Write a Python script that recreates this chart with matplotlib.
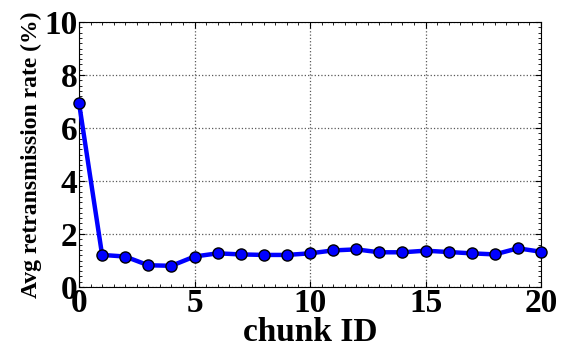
import matplotlib
matplotlib.use("Agg")
import matplotlib.pyplot as plt
from matplotlib.ticker import AutoMinorLocator

# chunk id vs average retransmission rate
chunk_id = list(range(21))
retx_rate = [6.95, 1.21, 1.15, 0.82, 0.80, 1.15, 1.27, 1.23, 1.21, 1.21, 1.27,
             1.38, 1.42, 1.31, 1.31, 1.37, 1.32, 1.27, 1.23, 1.46, 1.33]

plt.rcParams['font.family'] = ['Liberation Serif', 'DejaVu Serif']
plt.rcParams['font.weight'] = 'bold'

fig = plt.figure(figsize=(5.73, 3.55), dpi=100)
ax = fig.add_axes([79 / 573, 1 - 287 / 355, 462 / 573, 265 / 355])

ax.plot(chunk_id, retx_rate, color='blue', linewidth=3.2, marker='o',
        markersize=8, markerfacecolor='blue', markeredgecolor='black',
        markeredgewidth=1, clip_on=False, zorder=3)

ax.set_xlim(0, 20)
ax.set_ylim(0, 10)
ax.set_xticks([0, 5, 10, 15, 20])
ax.set_yticks([0, 2, 4, 6, 8, 10])
ax.yaxis.set_minor_locator(AutoMinorLocator(10))
ax.xaxis.set_minor_locator(AutoMinorLocator(10))
ax.tick_params(which='both', direction='in', top=True, right=True)
ax.tick_params(which='major', length=4, labelsize=24, pad=1)
ax.tick_params(which='minor', length=2)
for lbl in ax.get_xticklabels() + ax.get_yticklabels():
    lbl.set_fontweight('bold')

ax.grid(True, which='major', linestyle=':', color='0.35', linewidth=0.9)
ax.set_xlabel('chunk ID', fontsize=24, fontweight='bold', labelpad=-2)
ax.set_ylabel('Avg retransmission rate (%)', fontsize=17, fontweight='bold',
              labelpad=2)

fig.savefig('out.png', dpi=100)
